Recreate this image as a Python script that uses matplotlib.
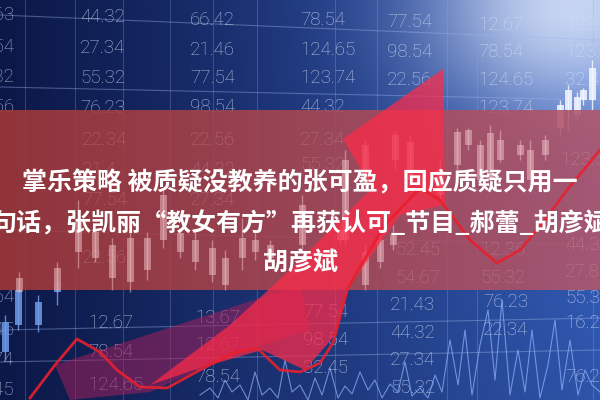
"""Red headline banner over a blue stock-ticker backdrop."""

import matplotlib

matplotlib.use("Agg")

import matplotlib.pyplot as plt  # noqa: E402
import numpy as np  # noqa: E402
from matplotlib.patches import Polygon  # noqa: E402

# --- data ------------------------------------------------------------------
TITLE_LINES = [
    "掌乐策略 被质疑没教养的张可盈，回应质疑只用一",
    "句话，张凯丽“教女有方”再获认可_节目_郝蕾_胡彦斌",
    "胡彦斌",
]

# ticker numbers on the blue part (left edge x, centre y, text)
num_x = [80, 80, 80, 80, 190, 190, 190, 190, 300, 300, 300, 300,
         387, 387, 387, 478, 478, 478, 478, 565, 565, 565,
         88, 88, 88, 195, 195, 195, 303, 303, 303,
         390, 390, 390, 390, 483, 483, 565, 565, 565]
num_y = [17, 48, 78, 108, 20, 50, 78, 107, 20, 50, 78, 107,
         22, 52, 80, 25, 52, 80, 108, 25, 52, 80,
         323, 352, 385, 318, 345, 377, 312, 340, 368,
         305, 333, 360, 388, 302, 330, 298, 323, 377]
num_txt = ["44.32", "27.34", "55.32", "76.23", "66.42", "21.46", "77.54", "98.54",
           "78.54", "124.65", "123.74", "44.32", "77.54", "98.54", "22.56",
           "12.67", "78.54", "124.65", "123.74", "123.7", "123.7", "32.45",
           "12.67", "78.54", "124.65", "13.67", "12.67", "78.54",
           "77.54", "98.54", "32.45", "21.43", "44.32", "27.34", "55.32",
           "76.23", "22.34", "55.36", "16.25", "76.2"]

# cut-off numbers hugging the left edge (right edge x, y, text)
edge_y = [15, 47, 77, 107, 297, 330, 360, 390]
edge_txt = ["12.63", "78.54", "44.32", "32.56", "32.54", "12.45", "123.74", "44.45"]

# faint numbers under the red band
faint_x = [82, 190, 82, 190, 82, 190, 82, 300, 300, 395, 480, 565, 395, 480, 565, 560]
faint_y = [140, 140, 170, 170, 200, 200, 258, 140, 165, 250, 250, 245, 278, 278, 272, 160]
faint_txt = ["22.34", "22.56", "21.4", "44.32", "77.54", "27.34", "22.56", "27.34",
             "55.32", "52.45", "12.36", "44.32", "54.67", "55.32", "27.8", "123.5"]

# candlesticks: x, wick top, body top, body bottom, wick bottom
pink_x = [19, 57, 78, 95, 112, 130, 147, 163, 180, 195, 212, 225, 242, 255, 270,
          302, 340, 345, 365, 365, 380, 393, 395, 410, 440, 457, 468, 480, 490, 500,
          520, 530, 545]
pink_hi = [272, 262, 200, 225, 238, 230, 232, 188, 228, 232, 240, 250, 218, 232, 240,
           195, 225, 150, 140, 245, 232, 225, 130, 135, 160, 128, 128, 140, 125, 130,
           140, 140, 135]
pink_top = [278, 268, 222, 232, 245, 238, 238, 195, 233, 240, 248, 258, 238, 240, 245,
            205, 230, 160, 145, 252, 240, 235, 135, 142, 170, 132, 130, 145, 133, 140,
            145, 150, 140]
pink_bot = [292, 290, 252, 258, 278, 282, 270, 240, 252, 262, 275, 285, 258, 252, 258,
            245, 240, 240, 185, 285, 262, 245, 160, 180, 195, 165, 145, 180, 180, 160,
            155, 180, 155]
pink_lo = [292, 292, 268, 262, 290, 292, 280, 248, 258, 270, 282, 290, 270, 260, 262,
           250, 245, 245, 190, 290, 268, 250, 170, 185, 200, 170, 150, 185, 190, 162,
           160, 190, 160]

blue_x = [5, 18, 38, 57]
blue_hi = [315, 282, 295, 280]
blue_top = [322, 290, 302, 282]
blue_bot = [352, 325, 325, 292]
blue_lo = [360, 330, 332, 305]

white_x = [560, 568, 577, 583, 592]
white_hi = [100, 85, 92, 88, 60]
white_top = [105, 90, 97, 90, 68]
white_bot = [128, 110, 115, 100, 100]
white_lo = [135, 130, 120, 105, 110]

# thin red trend line
red_x = [30, 55, 77, 100, 117, 140, 167, 200, 233, 257, 280, 300, 320, 333, 340,
         347, 360, 385, 420, 440, 470, 497, 520, 545, 567, 600]
red_y = [398, 365, 339, 352, 370, 387, 388, 370, 353, 348, 370, 372, 363, 343, 317,
         290, 267, 225, 188, 200, 240, 263, 250, 220, 190, 150]

# pale blue noise trace along the bottom
wave_x = [200, 210, 218, 225, 232, 240, 248, 255, 262, 270, 278, 285, 292, 300, 308,
          315, 322, 330, 338, 345, 352, 360, 368, 375, 382, 390, 398, 405, 412, 420,
          428, 435, 442, 450, 458, 465, 472, 480, 488, 495, 502, 510, 518, 525, 532,
          540, 548, 555, 562, 570, 578, 585, 592, 600]
wave_y = [395, 388, 398, 380, 392, 385, 400, 372, 395, 388, 398, 360, 392, 385, 400,
          378, 395, 368, 398, 386, 394, 372, 390, 380, 398, 384, 392, 362, 396, 388,
          398, 375, 392, 340, 385, 330, 395, 345, 310, 380, 300, 395, 350, 392, 330,
          398, 365, 320, 390, 340, 395, 370, 385, 392]

# --- figure --------------------------------------------------------------
W, H = 600, 400
fig = plt.figure(figsize=(6, 4), dpi=100)
ax = fig.add_axes([0, 0, 1, 1])
ax.set_xlim(0, W)
ax.set_ylim(H, 0)
ax.axis("off")

# blue backdrop: dark navy at left, brighter blue at right, glow top-right
xx, yy = np.meshgrid(np.arange(W) + 0.5, np.arange(H) + 0.5)
t = xx / W
left = np.array([12, 24, 72]) / 255
right = np.array([55, 100, 200]) / 255
bg = left + (right - left) * (t[..., None] ** 1.2)
bg = bg * (1.0 - 0.15 * (yy / H)[..., None] * t[..., None])
glow = np.exp(-(((xx - 570) ** 2) / (2 * 100 ** 2) + ((yy - 5) ** 2) / (2 * 80 ** 2)))
white = np.array([0.92, 0.95, 1.0])
bg = bg + (white - bg) * (0.8 * glow[..., None])
ax.imshow(bg, extent=(0, W, H, 0), zorder=0, aspect="auto")

# grid lines
for gx in [25, 75, 123, 170, 213, 257, 335, 377, 447, 477, 593]:
    ax.plot([gx, gx], [0, H], color="#8fa8e0", lw=0.6, alpha=0.35, zorder=1)
for y0, y1 in [(15, 40), (87, 100), (230, 245), (330, 318), (362, 350)]:
    ax.plot([0, W], [y0, y1], color="#9fb5ea", lw=0.8, alpha=0.4, zorder=1)

num_font = dict(family=["Roboto", "DejaVu Sans"], fontsize=13.5, weight="light",
                va="center", zorder=2)
for x, y, s in zip(num_x, num_y, num_txt, strict=True):
    ax.text(x, y, s, ha="left", color="#d5def5", alpha=0.8, **num_font)
for y, s in zip(edge_y, edge_txt, strict=True):
    ax.text(14, y, s, ha="right", color="#d5def5", alpha=0.75, **num_font)


def candles(xs, hi, top, bot, lo, color, alpha, z):
    ax.vlines(xs, hi, lo, color=color, lw=1.0, alpha=alpha, zorder=z)
    ax.bar(xs, np.subtract(bot, top), bottom=top, width=7, color=color,
           alpha=alpha, zorder=z, edgecolor="none")


candles(blue_x, blue_hi, blue_top, blue_bot, blue_lo, "#6f9be8", 0.85, 2)
candles(white_x, white_hi, white_top, white_bot, white_lo, "#f4f7ff", 0.85, 2)

# pale waveform
ax.plot(wave_x, wave_y, color="#8fb4ff", lw=0.8, alpha=0.7, zorder=2)

# dark purple swath below the band
ax.add_patch(Polygon([(55, 365), (300, 285), (310, 330), (240, 352), (150, 392), (70, 400)],
                     closed=True, color="#a0205a", alpha=0.55, lw=0, zorder=3))

# the red band
band = np.zeros((1, W, 4))
band[..., 0] = np.linspace(0.64, 0.70, W)
band[..., 1] = np.linspace(0.22, 0.34, W)
band[..., 2] = np.linspace(0.22, 0.42, W)
band[..., 3] = 0.88
ax.imshow(band, extent=(0, W, 290, 110), zorder=4, aspect="auto")

for x, y, s in zip(faint_x, faint_y, faint_txt, strict=True):
    ax.text(x, y, s, ha="left", color="#f0d0d0", alpha=0.3, **{**num_font, "zorder": 5})
candles(pink_x, pink_hi, pink_top, pink_bot, pink_lo, "#f2c4c8", 0.5, 5)

# bright arrow on top of the band
ax.add_patch(Polygon([(443, 69), (445, 205), (400, 215), (350, 285), (335, 335),
                      (305, 370), (262, 350), (200, 368), (150, 385), (230, 325),
                      (290, 270), (372, 188), (343, 139)],
                     closed=True, color="#ff2a48", alpha=0.72, lw=0, zorder=5.5))

ax.plot(red_x, red_y, color="#e8202e", lw=2.0, alpha=0.9, zorder=6)

for i, line in enumerate(TITLE_LINES):
    ax.text(300, 183 + 40 * i, line, ha="center", va="center", color="white",
            family=["Noto Sans CJK SC", "DejaVu Sans"], weight="bold",
            fontsize=18, zorder=7)

fig.savefig("out.png", dpi=100)
